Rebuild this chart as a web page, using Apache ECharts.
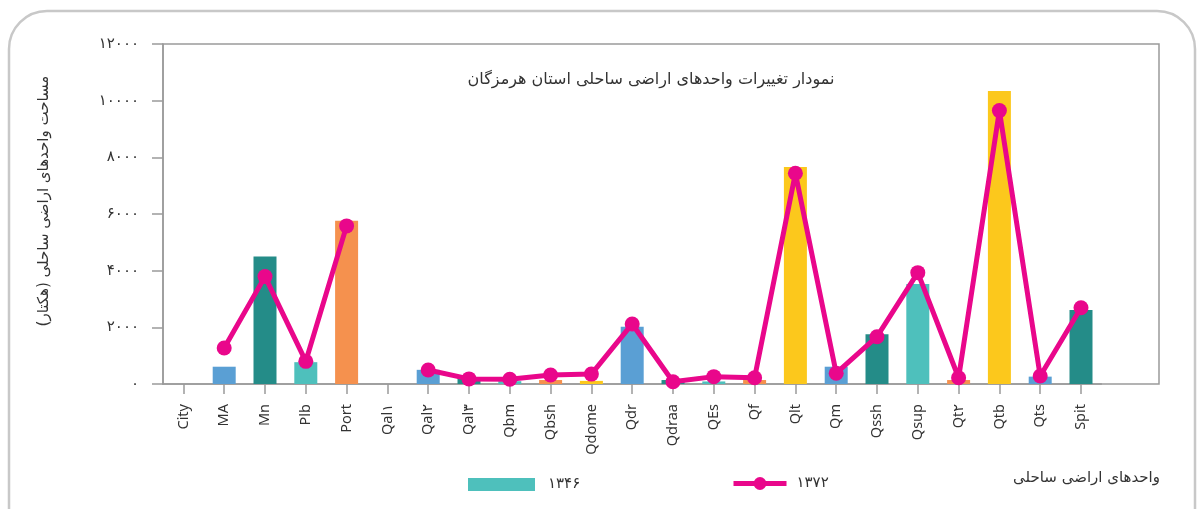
<!DOCTYPE html>
<html>
<head>
<meta charset="utf-8">
<script src="https://cdn.jsdelivr.net/npm/echarts@6/dist/echarts.min.js"></script>
<style>html,body{margin:0;padding:0;background:#fff}#c{width:1197px;height:509px}</style>
</head>
<body>
<div id="c"></div>
<script>
const categories = ['City','MA','Mn','Plb','Port','Qal۱','Qal۲','Qal۳','Qbm','Qbsh','Qdome','Qdr','Qdraa','QEs','Qf','Qlt','Qm','Qssh','Qsup','Qt۲','Qtb','Qts','Spit'];
const values1346 = [0,610,4500,770,5760,0,500,220,100,140,110,2020,140,90,140,7660,610,1760,3530,140,10340,260,2610];
const values1372 = [null,1270,3790,800,5580,null,495,180,170,320,350,2120,80,260,220,7440,380,1670,3930,220,9650,280,2690];
const yTicks = [0,2000,4000,6000,8000,10000,12000];
const seriesNames = ['۱۳۴۶','۱۳۷۲'];
const titleText = 'نمودار تغییرات واحدهای اراضی ساحلی استان هرمزگان';
const yName = 'مساحت واحدهای اراضی ساحلی (هکتار)';
const xName = 'واحدهای اراضی ساحلی';
const palette = ['#fcc81c','#5a9fd4','#248c88','#4ec0bc','#f5914e'];

function toFa(s){return String(s).replace(/[0-9]/g,d=>'۰۱۲۳۴۵۶۷۸۹'[d]);}
const FA = "'DejaVu Sans', 'Noto Sans', sans-serif";
const LAT = "'Noto Sans', 'DejaVu Sans', sans-serif";
const axisColor = '#9a9a9a';
const lineColor = '#e9078b';

const chart = echarts.init(document.getElementById('c'));
chart.setOption({
  animation:false,
  graphic:[
    {type:'rect', shape:{x:9,y:11,width:1186,height:620,r:38}, style:{fill:null,stroke:'#c8c8c8',lineWidth:2.5}, silent:true, z:-10},
    {type:'text', style:{text:titleText,x:651,y:80,textAlign:'center',textVerticalAlign:'middle',font:'16px '+FA,fill:'#333'}},
    {type:'text', style:{text:xName,x:1160,y:478,textAlign:'right',textVerticalAlign:'middle',font:'15px '+FA,fill:'#333'}}
  ],
  legend:[
    {data:[seriesNames[0]], left:463, top:472, itemWidth:67, itemHeight:13, icon:'rect',
     textStyle:{fontFamily:FA,fontSize:15,color:'#333',padding:[0,0,0,8]}},
    {data:[seriesNames[1]], left:726, top:471, itemWidth:53, itemHeight:16,
     lineStyle:{width:5},
     textStyle:{fontFamily:FA,fontSize:15,color:'#333',padding:[0,0,0,5]}}
  ],
  grid:[
    {left:163, top:44, width:23*40.8, bottom:125, containLabel:false},
    {left:163, top:44, right:38, bottom:125, show:true, borderColor:axisColor, borderWidth:1.5, backgroundColor:'transparent'}
  ],
  xAxis:[
    {type:'category', gridIndex:0, data:categories, boundaryGap:true,
     axisLine:{show:true,lineStyle:{color:axisColor,width:1.5}},
     axisTick:{show:true,alignWithLabel:true,length:10,lineStyle:{color:axisColor,width:1.5}},
     axisLabel:{interval:0,rotate:90,margin:20,fontSize:14.5,color:'#333',fontFamily:LAT}},
    {type:'value', gridIndex:1, show:false}
  ],
  yAxis:[
    {type:'value', gridIndex:0, min:yTicks[0], max:yTicks[yTicks.length-1], interval:yTicks[1]-yTicks[0],
     name:yName, nameLocation:'middle', nameRotate:90, nameGap:111,
     nameTextStyle:{fontFamily:FA,fontSize:15,color:'#333',padding:[0,0,0,26]},
     splitLine:{show:false},
     axisLine:{show:true,lineStyle:{color:axisColor,width:1.5}},
     axisTick:{show:true,length:11,lineStyle:{color:axisColor,width:1.5}},
     axisLabel:{margin:24,fontSize:15,color:'#333',fontFamily:FA,formatter:v=>toFa(v)}},
    {type:'value', gridIndex:1, show:false}
  ],
  series:[
    {name:seriesNames[0], type:'bar', xAxisIndex:0, yAxisIndex:0, barWidth:23,
     itemStyle:{color:palette[3]},
     data:values1346.map((v,i)=>({value:v,itemStyle:{color:palette[i%5]}})), z:2},
    {name:seriesNames[1], type:'line', xAxisIndex:0, yAxisIndex:0, data:values1372, connectNulls:false,
     symbol:'circle', symbolSize:15, showAllSymbol:true,
     itemStyle:{color:lineColor}, lineStyle:{color:lineColor,width:5}, z:3}
  ]
});
</script>
</body>
</html>
